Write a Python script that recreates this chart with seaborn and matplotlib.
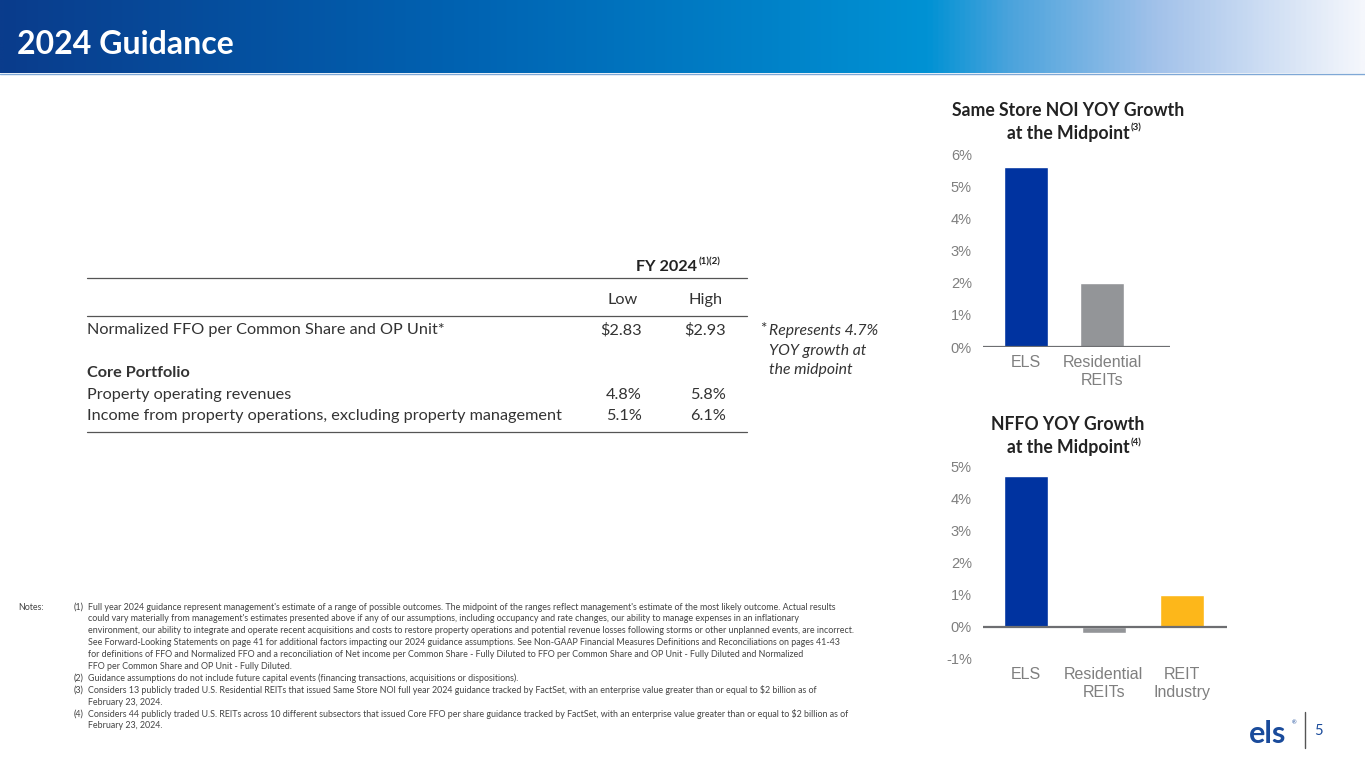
import numpy as np
import pandas as pd
import seaborn as sns
import matplotlib.pyplot as plt
from matplotlib.colors import LinearSegmentedColormap

# data
noi_labels = ["ELS", "Residential\nREITs"]
noi_values = [5.6, 2.0]
nffo_labels = ["ELS", "Residential\nREITs", "REIT\nIndustry"]
nffo_values = [4.7, -0.2, 1.0]
bar_colors = ["#0033a0", "#939598", "#fdb71a"]

row_labels = ["Normalized FFO per Common Share and OP Unit*", "Core Portfolio",
              "Property operating revenues",
              "Income from property operations, excluding property management"]
row_low = ["$2.83", "", "4.8%", "5.1%"]
row_high = ["$2.93", "", "5.8%", "6.1%"]
row_y = [330, 373, 395, 416]

# (number, text) - empty number means continuation line
notes = [
    ("(1)", "Full year 2024 guidance represent management's estimate of a range of possible outcomes. The midpoint of the ranges reflect management's estimate of the most likely outcome. Actual results"),
    ("", "could vary materially from management's estimates presented above if any of our assumptions, including occupancy and rate changes, our ability to manage expenses in an inflationary"),
    ("", "environment, our ability to integrate and operate recent acquisitions and costs to restore property operations and potential revenue losses following storms or other unplanned events, are incorrect."),
    ("", "See Forward-Looking Statements on page 41 for additional factors impacting our 2024 guidance assumptions. See Non-GAAP Financial Measures Definitions and Reconciliations on pages 41-43"),
    ("", "for definitions of FFO and Normalized FFO and a reconciliation of Net income per Common Share - Fully Diluted to FFO per Common Share and OP Unit - Fully Diluted and Normalized"),
    ("", "FFO per Common Share and OP Unit - Fully Diluted."),
    ("(2)", "Guidance assumptions do not include future capital events (financing transactions, acquisitions or dispositions)."),
    ("(3)", "Considers 13 publicly traded U.S. Residential REITs that issued Same Store NOI full year 2024 guidance tracked by FactSet, with an enterprise value greater than or equal to $2 billion as of"),
    ("", "February 23, 2024."),
    ("(4)", "Considers 44 publicly traded U.S. REITs across 10 different subsectors that issued Core FFO per share guidance tracked by FactSet, with an enterprise value greater than or equal to $2 billion as of"),
    ("", "February 23, 2024."),
]

W, H = 1365, 768


def fx(px):
    return px / W


def fy(py):
    return 1 - py / H


sns.set_style("white")
plt.rcParams['font.family'] = ['Lato', 'DejaVu Sans']

fig = plt.figure(figsize=(13.65, 7.68), dpi=100)

# header band
hdr = fig.add_axes([0, fy(73), 1, 73 / H])
cmap = LinearSegmentedColormap.from_list("hdr", [
    (0.0, "#0a3c8c"), (0.35, "#0064b3"), (0.68, "#0092d4"),
    (0.74, "#4aa3dc"), (0.85, "#a3c2ea"), (1.0, "#f5f7fc")])
hdr.imshow(np.linspace(0, 1, 512)[None, :], aspect="auto", cmap=cmap, extent=[0, 1, 0, 1])
hdr.axis("off")
fig.add_artist(plt.Line2D([0, 1], [fy(74), fy(74)], color="#7fa8d6", lw=1))
fig.text(fx(17), fy(44), "2024 Guidance", color="white", fontsize=23,
         fontweight="bold", va="center", ha="left")

# table
tc = "#333333"
fs = 11.7
fig.text(fx(667), fy(267), "FY 2024", fontsize=fs, fontweight="bold",
         ha="center", va="center", color="#222222")
fig.text(fx(699), fy(262), "(1)(2)", fontsize=7, fontweight="bold",
         ha="left", va="center", color="#222222")
for yy in (278, 316, 432):
    fig.add_artist(plt.Line2D([fx(87), fx(747)], [fy(yy), fy(yy)], color="#555555", lw=0.9))
fig.text(fx(623), fy(300), "Low", fontsize=fs, ha="center", va="center", color=tc)
fig.text(fx(706), fy(300), "High", fontsize=fs, ha="center", va="center", color=tc)
for lab, lo, hi, yy in zip(row_labels, row_low, row_high, row_y):
    bold = lab == "Core Portfolio"
    fig.text(fx(87), fy(yy), lab, fontsize=fs, ha="left", va="center", color=tc,
             fontweight="bold" if bold else "normal")
    fig.text(fx(642), fy(yy), lo, fontsize=fs, ha="right", va="center", color=tc)
    fig.text(fx(726), fy(yy), hi, fontsize=fs, ha="right", va="center", color=tc)

fig.text(fx(760), fy(329), "*", fontsize=11, ha="left", va="center", color=tc)
for txt, yy in zip(["Represents 4.7%", "YOY growth at", "the midpoint"], [331, 351, 370]):
    fig.text(fx(769), fy(yy), txt, fontsize=11.3, style="italic", ha="left", va="center", color=tc)


def bar_chart(rect, labels, values, ylim, xlim, width, title_lines, sup, title_y):
    ax = fig.add_axes(rect)
    df = pd.DataFrame({"cat": labels, "val": values})
    pal = dict(zip(labels, bar_colors[:len(labels)]))
    sns.barplot(data=df, x="cat", y="val", hue="cat", palette=pal, width=width,
                saturation=1, legend=False, ax=ax)
    ax.set_ylim(*ylim)
    ax.set_xlim(*xlim)
    ax.set_yticks(range(ylim[0], ylim[1] + 1))
    ax.set_yticklabels([f"{v}%" for v in range(ylim[0], ylim[1] + 1)])
    ax.set_xlabel("")
    ax.set_ylabel("")
    for s in ax.spines.values():
        s.set_visible(False)
    ax.axhline(0, color="#6d6e71", lw=1.6, zorder=3)
    ax.tick_params(axis="y", length=0, pad=8, labelsize=10.5, labelcolor="#7f7f7f")
    ax.tick_params(axis="x", length=0, pad=6, labelsize=11.5, labelcolor="#7f7f7f")
    ax.set_facecolor("none")
    for lab in ax.get_yticklabels() + ax.get_xticklabels():
        lab.set_fontfamily("Liberation Sans")
    fig.text(fx(1068), fy(title_y), title_lines[0], fontsize=12.7, fontweight="bold",
             ha="center", va="center", color="#222222")
    t2 = fig.text(fx(1068), fy(title_y + 23), title_lines[1], fontsize=12.7, fontweight="bold",
                  ha="center", va="center", color="#222222")
    bb = t2.get_window_extent(renderer=fig.canvas.get_renderer())
    fig.text((bb.x1 + 1) / W, fy(title_y + 18), sup, fontsize=7, fontweight="bold",
             ha="left", va="center", color="#222222")
    return ax


bar_chart([fx(983), fy(347), fx(1170) - fx(983), (347 - 154) / H],
          noi_labels, noi_values, (0, 6), (-0.57, 1.89), 0.58,
          ["Same Store NOI YOY Growth", "at the Midpoint"], "(3)", 110)
bar_chart([fx(983), fy(659), fx(1227) - fx(983), (659 - 466) / H],
          nffo_labels, nffo_values, (-1, 5), (-0.55, 2.58), 0.56,
          ["NFFO YOY Growth", "at the Midpoint"], "(4)", 425)

# notes
nc = "#444444"
nfs = 6.4
fig.text(fx(18), fy(607), "Notes:", fontsize=nfs, ha="left", va="center", color=nc)
for i, (num, line) in enumerate(notes):
    yy = fy(607 + i * 11.9)
    if num:
        fig.text(fx(74), yy, num, fontsize=nfs, ha="left", va="center", color=nc)
    fig.text(fx(88), yy, line, fontsize=nfs, ha="left", va="center", color=nc)

# logo + page number
fig.text(fx(1268), fy(734), "els", fontsize=22, fontweight="bold", ha="center",
         va="center", color="#1a4b9b")
fig.text(fx(1292), fy(723), "®", fontsize=4, ha="left", va="center", color="#1a4b9b")
fig.add_artist(plt.Line2D([fx(1305), fx(1305)], [fy(712), fy(748)], color="#555555", lw=1))
fig.text(fx(1318), fy(731), "5", fontsize=10.5, ha="center", va="center", color="#1a4b9b")

fig.savefig("out.png", dpi=100)
